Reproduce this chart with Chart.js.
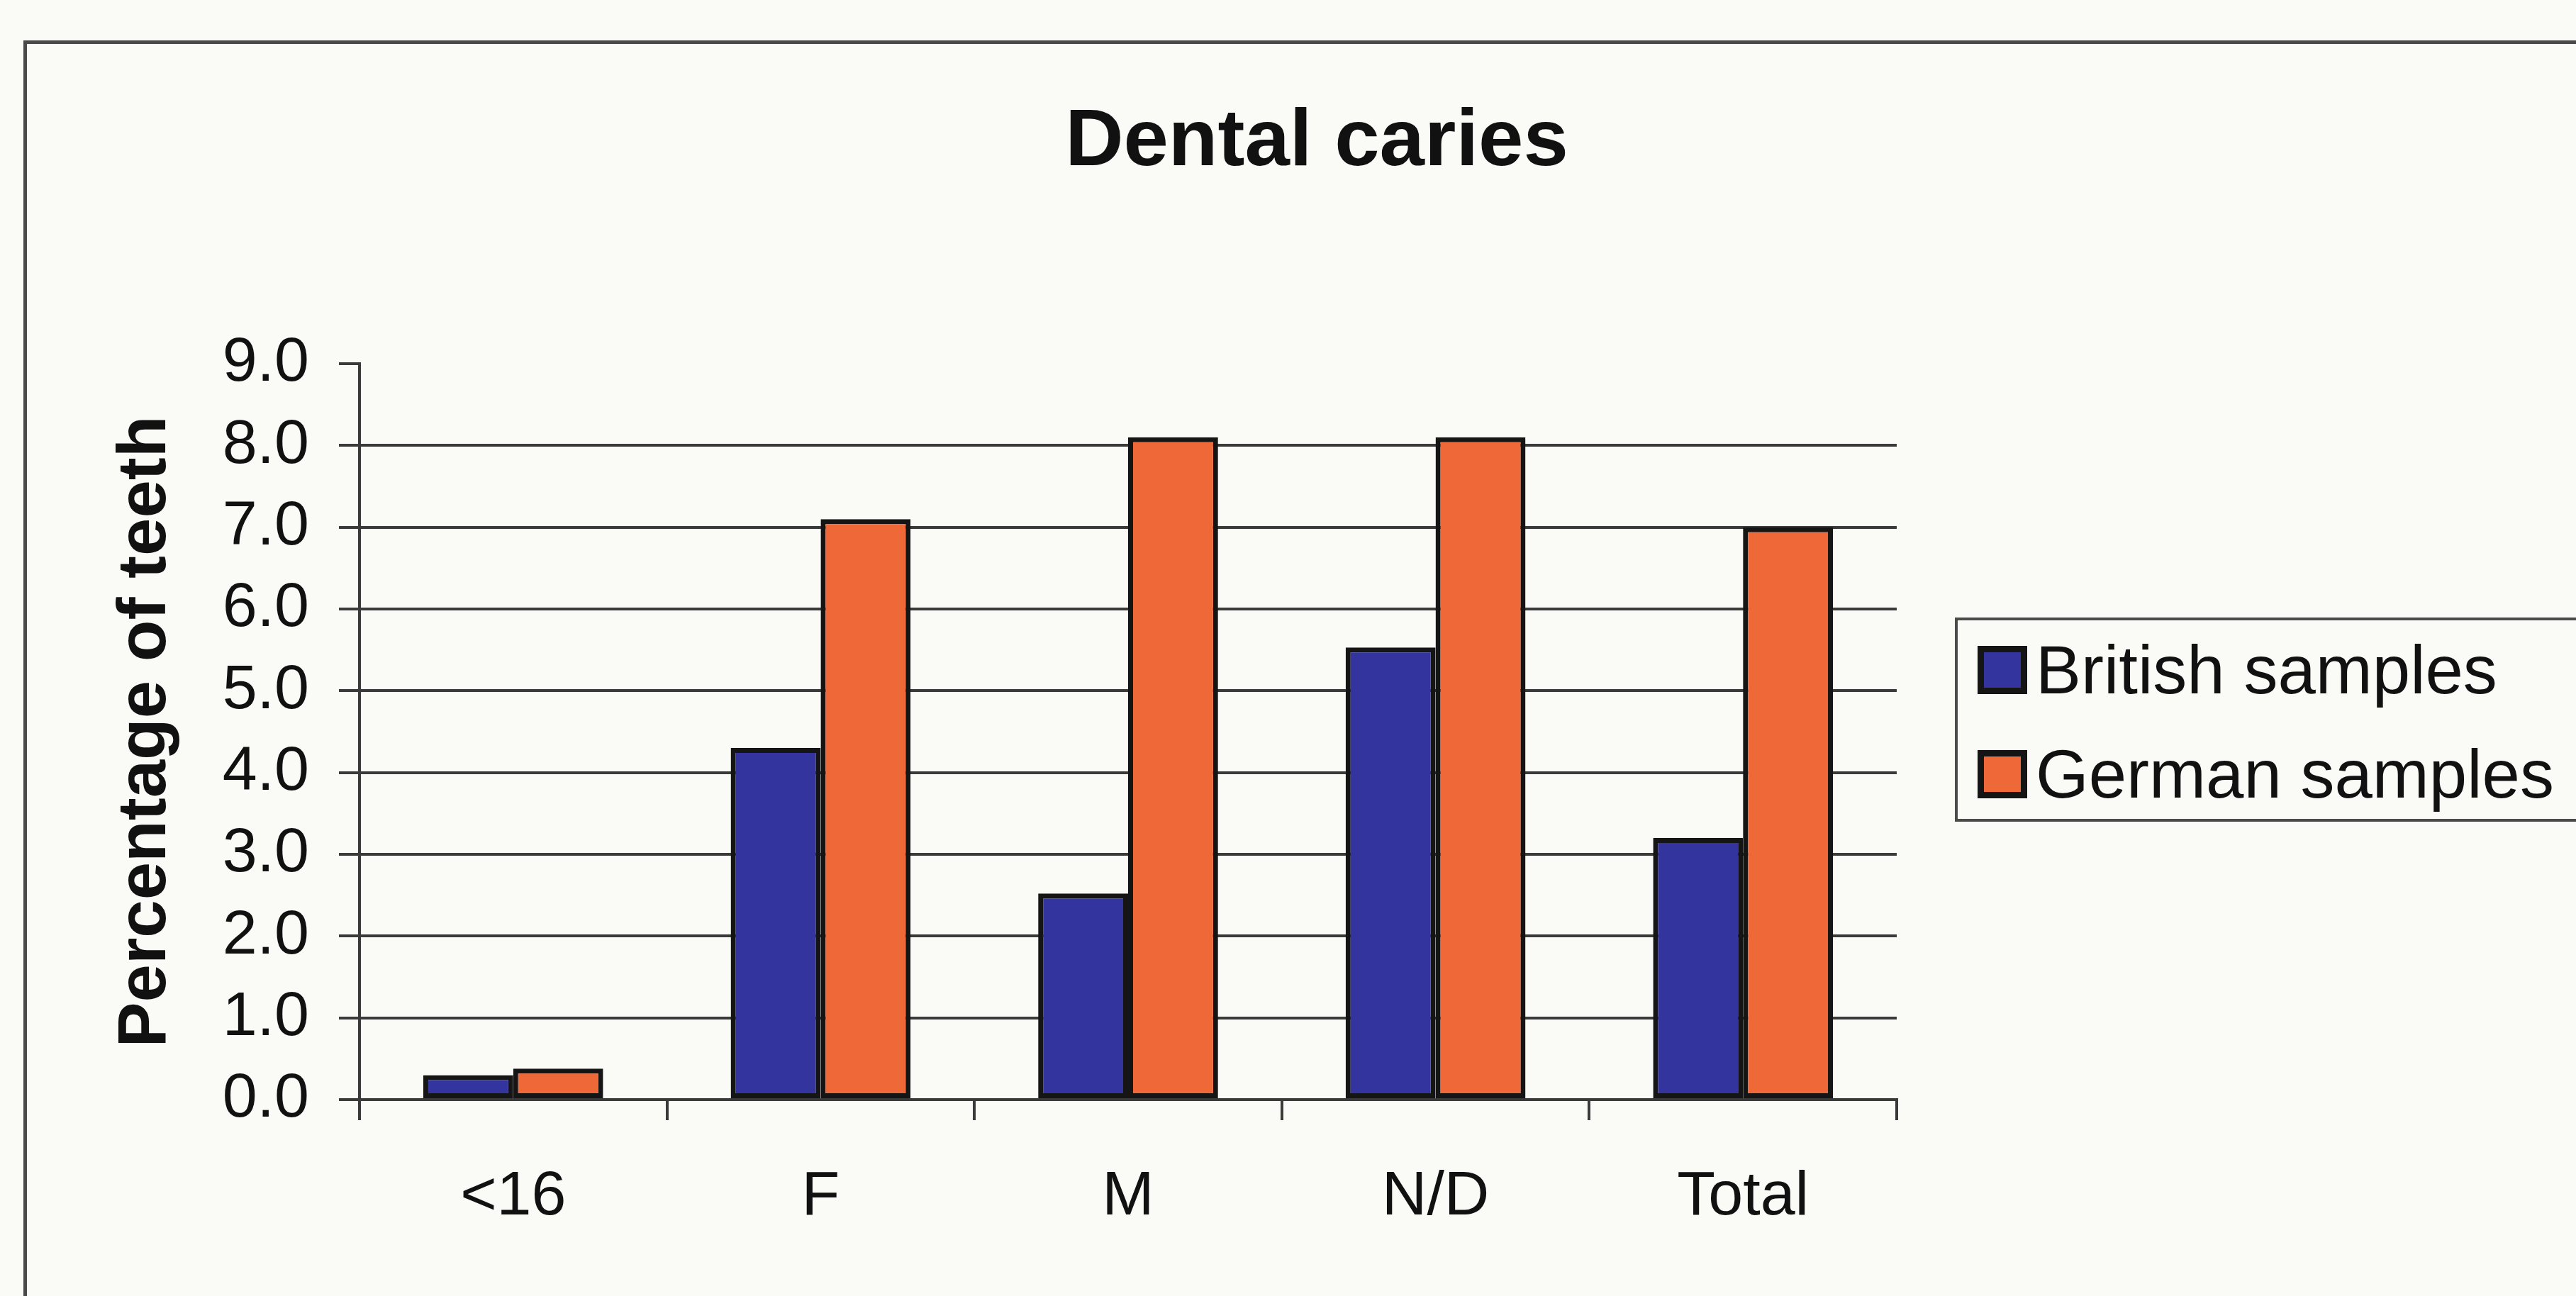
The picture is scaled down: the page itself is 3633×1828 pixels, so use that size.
<!DOCTYPE html>
<html>
<head>
<meta charset="utf-8">
<script src="https://cdn.jsdelivr.net/npm/chart.js@4/dist/chart.umd.min.js"></script>
<style>
  html,body{margin:0;padding:0;background:#FAFAF7;overflow:hidden;}
  body{width:3633px;height:1828px;position:relative;font-family:"Liberation Sans",Arial,sans-serif;}
  #frame{position:absolute;left:33px;top:57px;width:4000px;height:2000px;border-left:5px solid #4a4a4a;border-top:5px solid #4a4a4a;}
  #titre{position:absolute;left:1857px;top:137px;transform:translateX(-50%);font-weight:bold;font-size:114px;line-height:1;color:#111;white-space:nowrap;}
  #wrap{position:absolute;left:0;top:0;width:3633px;height:1828px;}
  #legende{position:absolute;left:2757px;top:871px;width:1000px;height:288px;border:4px solid #4a4a4a;box-sizing:border-box;}
  .item{position:absolute;left:28px;height:70px;display:flex;align-items:center;font-size:96px;color:#111;white-space:nowrap;}
  .sw{width:52px;height:50px;border:9px solid #151515;margin-right:12px;flex:none;}
</style>
</head>
<body>
<div id="frame"></div>
<div id="titre">Dental caries</div>
<div id="wrap"><canvas id="chart" width="3633" height="1828"></canvas></div>
<div id="legende"></div>
<script>
// Dental caries — pourcentage de dents par groupe

const categories = ["<16","F","M","N/D","Total"];
const british = [0.3, 4.3, 2.52, 5.53, 3.2];
const german  = [0.38, 7.1, 8.1, 8.1, 7.0];
const seriesNames = ["British samples","German samples"];
const seriesColors = ["#34349E","#EE6838"];
const yTicks = [0,1,2,3,4,5,6,7,8,9];

const FONT = "'Liberation Sans', Arial, sans-serif";
const INK = "#3a3a3a";
const Y_MAX = yTicks[yTicks.length-1];

function renderLegend(chart){
  const box = document.getElementById("legende");
  box.innerHTML = chart.data.datasets.map((ds,i) =>
    `<div class="item" style="top:${35 + i*147}px"><span class="sw" style="background:${ds.backgroundColor}"></span>${ds.label}</div>`
  ).join("");
}

const ctx = document.getElementById("chart");
const chart = new Chart(ctx, {
  type:"bar",
  data:{
    labels: categories,
    datasets:[
      { label:seriesNames[0], data:british, backgroundColor:seriesColors[0] },
      { label:seriesNames[1], data:german,  backgroundColor:seriesColors[1] },
    ].map(d => ({...d, borderColor:"#151515", borderWidth:7, borderSkipped:false,
                  categoryPercentage:.585, barPercentage:1})),
  },
  options:{
    responsive:false, animation:false,
    layout:{padding:{left:149, right:958, top:513, bottom:77}},
    plugins:{legend:{display:false}, title:{display:false}, tooltip:{enabled:false}},
    scales:{
      x:{
        grid:{drawOnChartArea:false, drawTicks:true, tickLength:29, color:INK, lineWidth:4},
        border:{display:true, color:INK, width:4},
        ticks:{font:{family:FONT, size:88}, color:"#111", padding:56},
        afterFit:s => { s.height = 200; },
      },
      y:{
        min:0, max:Y_MAX,
        afterBuildTicks:s => { s.ticks = yTicks.map(v => ({value:v})); },
        // pas de ligne de grille au sommet, seulement la graduation
        grid:{color:c => c.tick && c.tick.value === Y_MAX ? "rgba(0,0,0,0)" : INK,
              tickColor:INK, lineWidth:4, tickLength:29},
        border:{display:true, color:INK, width:4},
        ticks:{font:{family:FONT, size:88}, color:"#111", padding:42, callback:v => Number(v).toFixed(1)},
        title:{display:true, text:"Percentage of teeth", color:"#111", padding:0,
               font:{family:FONT, size:96, weight:"bold", lineHeight:1.2}},
        afterFit:s => { s.width = 358; },
      },
    },
  },
});
renderLegend(chart);
</script>
</body>
</html>
